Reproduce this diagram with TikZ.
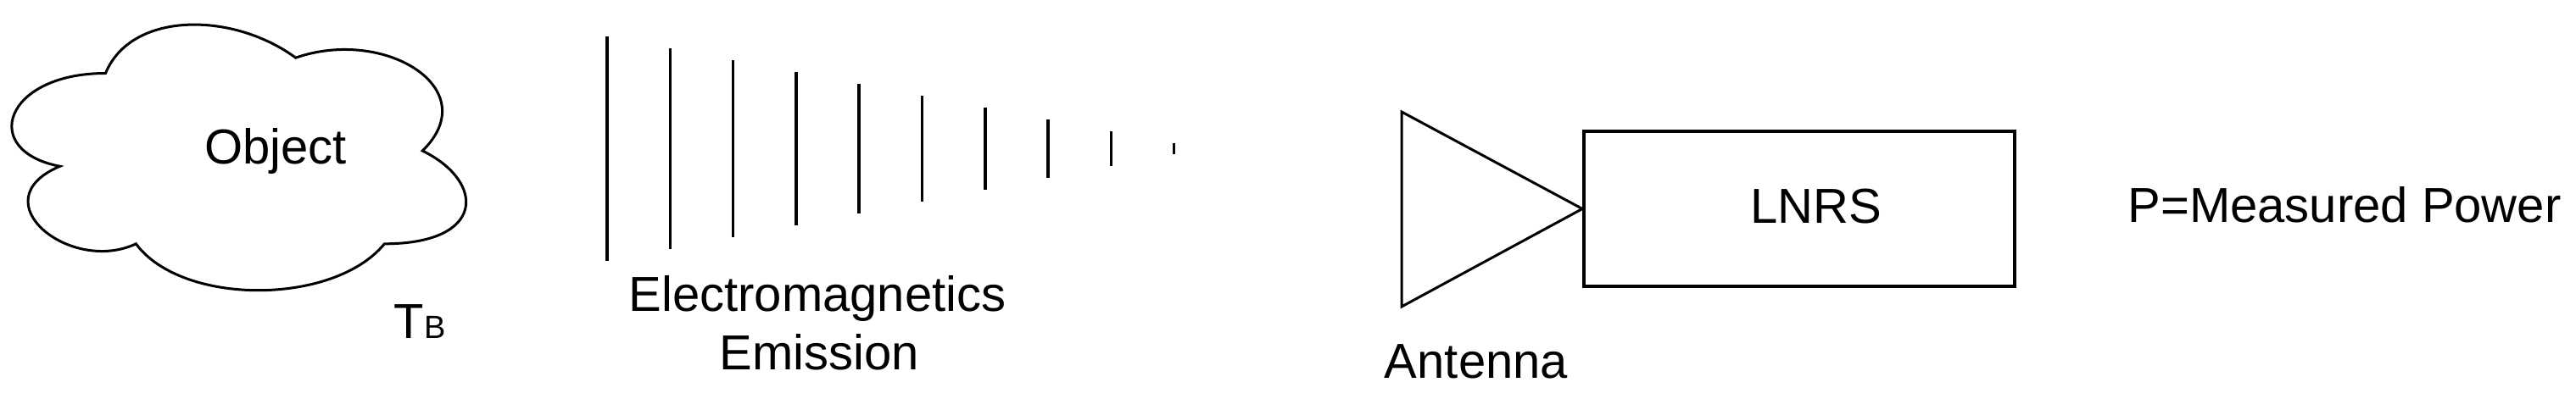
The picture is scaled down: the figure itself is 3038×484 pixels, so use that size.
\documentclass[tikz,border=0pt]{standalone}
\usepackage{fontspec}
\setmainfont{Liberation Sans}
\begin{document}
\begin{tikzpicture}[x=1pt,y=-1pt,
  lbl/.style={inner sep=0pt, anchor=base, font=\fontsize{58}{69}\selectfont},
  outline/.style={draw=black, line width=3pt, line join=miter},
  wave/.style={draw=black, line width=3.5pt},
  boxstyle/.style={draw=black, line width=3.8pt, minimum width=508pt, minimum height=183pt, inner sep=0pt}]
\useasboundingbox (0,0) rectangle (3038,484);
% cloud (object)
\begin{scope}[shift={(-25,-5)}, x=598pt, y=-366pt]
\draw[outline] (0.25,0.25) .. controls (0.05,0.25) and (0,0.5) .. (0.16,0.55)
  .. controls (0,0.66) and (0.18,0.9) .. (0.31,0.8)
  .. controls (0.4,1) and (0.7,1) .. (0.8,0.8)
  .. controls (1,0.8) and (1,0.6) .. (0.875,0.5)
  .. controls (1,0.3) and (0.8,0.1) .. (0.625,0.2)
  .. controls (0.5,0.05) and (0.3,0.05) .. (0.25,0.25) -- cycle;
\end{scope}
\node[lbl] (object) at (325,193) {Object};
\node[lbl] (tb) at (495,399) {T{\fontsize{38}{40}\selectfont B}};
% emission lines
\foreach \i in {0,...,9}{
  \coordinate (wt\i) at ({716+74.3*\i},{43+14*\i});
  \coordinate (wb\i) at ({716+74.3*\i},{308-14*\i});
  \draw[wave] (wt\i) -- (wb\i);
}
\node[lbl] (em1) at (964,367) {Electromagnetics};
\node[lbl] (em2) at (966,436) {Emission};
% receiver
\node[boxstyle] (lnrs) at (2122,246.5) {};
\node[lbl] (lnrstext) at (2142,263) {LNRS};
\coordinate (antTop) at (1653,132);
\coordinate (antBot) at (1653,362);
\draw[outline] (antTop) -- (lnrs.west) -- (antBot) -- cycle;
\node[lbl] (antenna) at (1741,446) {Antenna};
\node[lbl] (power) at (2765,262) {P=Measured Power};
\end{tikzpicture}
\end{document}
